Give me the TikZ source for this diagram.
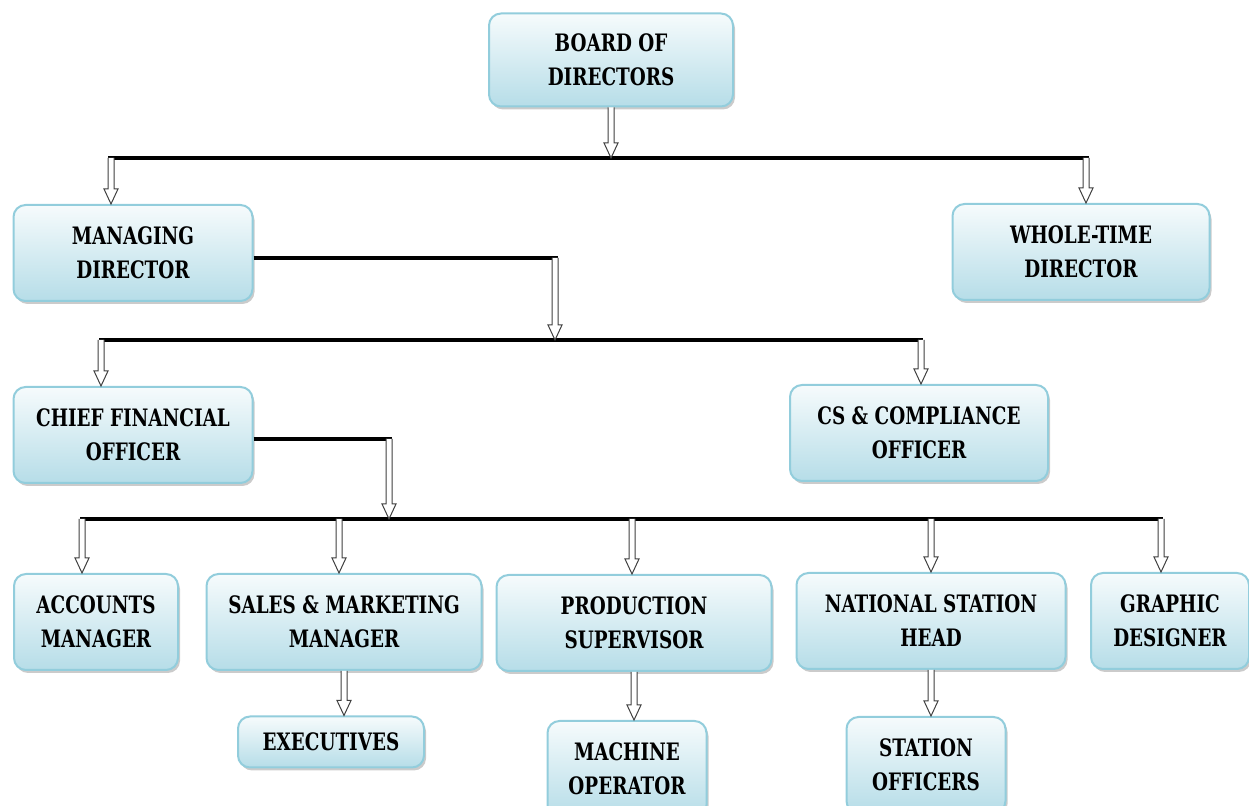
\documentclass[tikz,border=0pt]{standalone}
\usepackage{fontspec}
\setmainfont{DejaVu Serif Condensed}[FakeStretch=0.85]
\usetikzlibrary{shadows,calc}

\definecolor{boxline}{RGB}{146,205,220}
\definecolor{boxtop}{RGB}{246,251,252}
\definecolor{boxbottom}{RGB}{182,221,232}

\tikzset{
  post/.style={draw=boxline, line width=1pt, rounded corners=6pt,
    top color=boxtop, bottom color=boxbottom,
    drop shadow={shadow xshift=1pt, shadow yshift=-1.5pt, fill=black!45, opacity=0.45},
    align=center, inner sep=0pt, minimum height=48pt,
    font=\fontsize{12}{17}\selectfont\bfseries},
  bus/.style={draw=black, line width=1.7pt},
  hollow/.style={draw=black!75, line width=0.5pt, fill=white}
}

% block arrow pointing down: #1 start, #2 tip
\newcommand{\hollowdown}[2]{%
  \draw[hollow] ($(#1)+(-3,0)$) -- ($(#2)+(-3,-15)$) -- ($(#2)+(-7,-15)$) -- (#2)
    -- ($(#2)+(7,-15)$) -- ($(#2)+(3,-15)$) -- ($(#1)+(3,0)$);}

\begin{document}
\begin{tikzpicture}[x=0.5pt, y=-0.5pt]
  \useasboundingbox (0,0) rectangle (1249,806);

  % top
  \node[post, minimum width=122pt, minimum height=46.5pt] (board) at (611,60) {BOARD OF\\DIRECTORS};
  \node[post, minimum width=119.5pt] (md) at (133,253) {MANAGING\\DIRECTOR};
  \node[post, minimum width=128.5pt] (wt) at (1081,252) {WHOLE-TIME\\DIRECTOR};

  % middle
  \node[post, minimum width=119.5pt] (cfo) at (133,435) {CHIEF FINANCIAL\\OFFICER};
  \node[post, minimum width=129pt] (cs) at (919,433) {CS \& COMPLIANCE\\OFFICER};

  % lower row
  \node[post, minimum width=82pt] (acc) at (96,622) {ACCOUNTS\\MANAGER};
  \node[post, minimum width=137.5pt] (sal) at (344,622) {SALES \& MARKETING\\MANAGER};
  \node[post, minimum width=137.5pt] (pro) at (634,623) {PRODUCTION\\SUPERVISOR};
  \node[post, minimum width=134.5pt] (nat) at (931,621) {NATIONAL STATION\\HEAD};
  \node[post, minimum width=79pt] (gra) at (1170,621) {GRAPHIC\\DESIGNER};

  % bottom
  \node[post, minimum width=93pt, minimum height=25.5pt] (exe) at (331,742) {EXECUTIVES};
  \node[post, minimum width=79.5pt] (mac) at (627,769) {MACHINE\\OPERATOR};
  \node[post, minimum width=79.5pt] (sta) at (926,765) {STATION\\OFFICERS};

  % board to directors
  \coordinate (b1) at (611,158);
  \coordinate (b1l) at (111,158);
  \coordinate (b1r) at (1086,158);
  \draw[bus] ([xshift=-1.5pt]b1l) -- ([xshift=1.5pt]b1r);
  \hollowdown{board.south}{b1};
  \hollowdown{b1l}{b1l |- md.north};
  \hollowdown{b1r}{b1r |- wt.north};

  % managing director to officers
  \coordinate (m1) at (555,258);
  \coordinate (b2) at (555,340);
  \coordinate (b2l) at (101,340);
  \coordinate (b2r) at (921,340);
  \draw[bus] (md.east |- m1) -- ([xshift=1.5pt]m1);
  \draw[bus] ([xshift=-1pt]b2l) -- ([xshift=1pt]b2r);
  \hollowdown{m1}{b2};
  \hollowdown{b2l}{b2l |- cfo.north};
  \hollowdown{b2r}{b2r |- cs.north};

  % chief financial officer to managers
  \coordinate (c1) at (389,439);
  \coordinate (b3) at (389,519);
  \coordinate (b3a) at (82,519);
  \coordinate (b3b) at (339,519);
  \coordinate (b3c) at (632,519);
  \coordinate (b3d) at (931,519);
  \coordinate (b3e) at (1161,519);
  \draw[bus] (cfo.east |- c1) -- ([xshift=1.5pt]c1);
  \draw[bus] ([xshift=-1pt]b3a) -- ([xshift=1pt]b3e);
  \hollowdown{c1}{b3};
  \hollowdown{b3a}{b3a |- acc.north};
  \hollowdown{b3b}{b3b |- sal.north};
  \hollowdown{b3c}{b3c |- pro.north};
  \hollowdown{b3d}{b3d |- nat.north};
  \hollowdown{b3e}{b3e |- gra.north};

  % to staff
  \hollowdown{sal.south}{sal.south |- exe.north};
  \hollowdown{pro.south}{pro.south |- mac.north};
  \hollowdown{nat.south}{nat.south |- sta.north};
\end{tikzpicture}
\end{document}
